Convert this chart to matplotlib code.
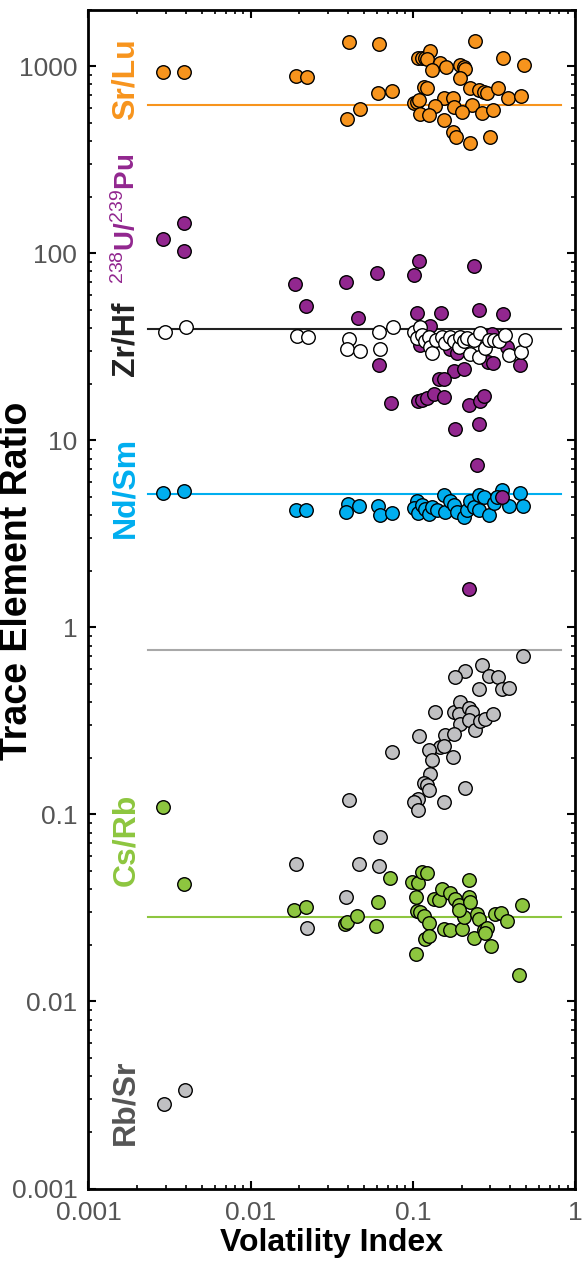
import matplotlib
matplotlib.use('Agg')
import matplotlib.pyplot as plt
from matplotlib.ticker import FixedLocator, FixedFormatter, LogLocator, NullFormatter

plt.rcParams['font.family'] = ['Liberation Sans', 'DejaVu Sans']
plt.rcParams['mathtext.fontset'] = 'custom'
plt.rcParams['mathtext.rm'] = 'Liberation Sans'

# Sr/Lu
srlu_x = [0.0029, 0.0039, 0.0191, 0.0222, 0.0402, 0.0621, 0.0392, 0.0470, 0.0610, 0.0744,
          0.1071, 0.1139, 0.1195, 0.1283, 0.1223, 0.1465, 0.1603, 0.1314, 0.1966, 0.2061,
          0.211, 0.1948, 0.2433, 0.3607, 0.484, 0.1167, 0.1223, 0.2266, 0.2552, 0.274,
          0.2873, 0.3344, 0.3873, 0.4615, 0.1012, 0.1061, 0.1087, 0.1551, 0.1771, 0.1378,
          0.1788, 0.232, 0.1100, 0.1253, 0.2013, 0.2676, 0.3130, 0.1566, 0.1771, 0.1857,
          0.2266, 0.2984]
srlu_y = [933, 933, 891, 873, 1344, 1316, 525, 594, 720, 738,
          1112, 1112, 1112, 1203, 1100, 1042, 996, 952, 1020, 990,
          970, 870, 1366, 1108, 1020, 775, 770, 770, 750, 729,
          720, 770, 680, 690, 640, 645, 660, 680, 680, 611,
          606, 624, 558, 547, 570, 562, 586, 514, 446, 419,
          389, 419]

# 238U/239Pu
upu_x = [0.0029, 0.0039, 0.0039, 0.0188, 0.0219, 0.0386, 0.0602, 0.1012, 0.1087, 0.2399,
         0.0459, 0.1061, 0.1494, 0.2576, 0.3607, 0.1271, 0.0616, 0.1113, 0.1705, 0.1875,
         0.3085, 0.3818, 0.290, 0.313, 0.457, 0.1788, 0.2061, 0.1445, 0.1551, 0.0734,
         0.1076, 0.1139, 0.1223, 0.1345, 0.1551, 0.2213, 0.2613, 0.2766, 0.1831, 0.2576,
         0.2492, 0.3556, 0.2213]
upu_y = [120, 146, 103, 68.9, 52.3, 70.6, 78.5, 76.9, 91.0, 85.2,
         45.1, 48.0, 48.0, 50.0, 47.2, 40.8, 25.4, 32.2, 30.9, 29.3,
         37.2, 31.5, 26.2, 25.9, 25.4, 23.5, 24.0, 21.4, 21.4, 15.8,
         16.2, 16.5, 16.8, 17.7, 17.0, 15.5, 16.2, 17.3, 11.5, 12.3,
         7.35, 5.01, 1.61]

# Zr/Hf
zrhf_x = [0.00297, 0.00401, 0.0193, 0.0225, 0.0406, 0.0392, 0.0470, 0.0616, 0.0630, 0.0751,
          0.1012, 0.1103, 0.1061, 0.1139, 0.1195, 0.1253, 0.1283, 0.1314, 0.1397, 0.1515,
          0.1588, 0.1705, 0.1788, 0.1920, 0.1966, 0.2061, 0.2161, 0.2266, 0.2376, 0.2552,
          0.2613, 0.2806, 0.2942, 0.3159, 0.3391, 0.3677, 0.391, 0.466, 0.489]
zrhf_y = [37.9, 40.4, 36.1, 35.5, 35.0, 30.7, 30.0, 37.9, 30.7, 40.4,
          37.9, 40.4, 35.3, 36.4, 33.9, 35.7, 31.5, 29.3, 34.5, 35.7,
          33.1, 35.5, 33.9, 31.5, 35.7, 33.9, 35.3, 29.0, 34.5, 27.9,
          37.5, 31.0, 34.5, 34.5, 33.9, 36.4, 28.7, 29.7, 34.2]

# Nd/Sm
ndsm_x = [0.0029, 0.0039, 0.0191, 0.0220, 0.0398, 0.0388, 0.0463, 0.0610, 0.0624, 0.0744,
          0.1551, 0.1061, 0.1012, 0.1076, 0.1139, 0.1195, 0.1253, 0.1314, 0.1411, 0.1588,
          0.1705, 0.1788, 0.1875, 0.2061, 0.2161, 0.2266, 0.2376, 0.2552, 0.2740, 0.2552,
          0.2942, 0.3159, 0.3556, 0.391, 0.457, 0.478, 0.3312]
ndsm_y = [5.22, 5.35, 4.26, 4.26, 4.55, 4.14, 4.46, 4.46, 3.97, 4.08,
          5.08, 4.77, 4.34, 4.08, 4.5, 4.32, 4.04, 4.39, 4.22, 4.14,
          4.77, 4.5, 4.14, 3.89, 4.22, 4.77, 4.39, 5.08, 4.98, 4.22,
          3.97, 4.6, 5.4, 4.44, 5.23, 4.46, 4.98]

# Rb/Sr (grey)
rbsr_x = [0.478, 0.2676, 0.209, 0.1831, 0.2942, 0.3344, 0.3556, 0.391, 0.2552, 0.1378,
          0.1788, 0.1966, 0.1920, 0.2213, 0.232, 0.1966, 0.2213, 0.2433, 0.2613, 0.2806,
          0.313, 0.1097, 0.1588, 0.1788, 0.1479, 0.1551, 0.1253, 0.1771, 0.0744, 0.1314,
          0.1271, 0.1167, 0.1223, 0.1253, 0.209, 0.1071, 0.1012, 0.1551, 0.1071, 0.0402,
          0.0624, 0.0191, 0.0463, 0.0616, 0.0388, 0.0222, 0.00294, 0.00395]
rbsr_y = [0.70, 0.631, 0.582, 0.543, 0.55, 0.543, 0.470, 0.475, 0.470, 0.352,
          0.352, 0.399, 0.345, 0.373, 0.355, 0.303, 0.32, 0.284, 0.315, 0.325,
          0.345, 0.263, 0.265, 0.27, 0.229, 0.231, 0.222, 0.203, 0.215, 0.195,
          0.165, 0.147, 0.144, 0.135, 0.139, 0.121, 0.117, 0.117, 0.105, 0.119,
          0.0757, 0.0541, 0.0541, 0.053, 0.0361, 0.0247, 0.00284, 0.00336]

# Cs/Rb
csrb_x = [0.0029, 0.00388, 0.0727, 0.0186, 0.0219, 0.0382, 0.0392, 0.0455, 0.0610, 0.0596,
          0.0988, 0.1071, 0.1139, 0.1223, 0.2213, 0.1051, 0.1345, 0.1445, 0.1515, 0.1705,
          0.1831, 0.1920, 0.2213, 0.2266, 0.1061, 0.1113, 0.1167, 0.1253, 0.1195, 0.1253,
          0.1551, 0.1705, 0.2013, 0.2061, 0.1920, 0.2376, 0.2492, 0.2552, 0.2740, 0.2873,
          0.2806, 0.3190, 0.3507, 0.3818, 0.4727, 0.3043, 0.1051, 0.4508]
csrb_y = [0.109, 0.0423, 0.0459, 0.0307, 0.0320, 0.0258, 0.0266, 0.0286, 0.0340, 0.0253,
          0.0438, 0.043, 0.0492, 0.0488, 0.0448, 0.0364, 0.0354, 0.0347, 0.0397, 0.038,
          0.0354, 0.0327, 0.0364, 0.034, 0.0304, 0.030, 0.0285, 0.0263, 0.0216, 0.0225,
          0.0245, 0.0242, 0.0245, 0.0284, 0.031, 0.0219, 0.0295, 0.0277, 0.024, 0.0248,
          0.0233, 0.0295, 0.0297, 0.0271, 0.0327, 0.0197, 0.018, 0.0139]

# reference (CI) values drawn as horizontal lines
ref_vals = {'srlu': 624, 'zrhf': 39.6, 'ndsm': 5.14, 'rbsr': 0.76, 'csrb': 0.0282}
line_x = [0.00234, 0.825]

orange = '#F7941D'
purple = '#92278F'
blue = '#00AEEF'
green = '#8DC63F'
grey = '#C0C0C2'

fig = plt.figure(figsize=(5.84, 12.66), dpi=100)
ax = fig.add_axes([0.1515, 0.0612, 0.8331, 0.9309])

ax.plot(line_x, [ref_vals['srlu']] * 2, color=orange, lw=1.5, zorder=1)
ax.plot(line_x, [ref_vals['zrhf']] * 2, color='#222222', lw=1.5, zorder=1)
ax.plot(line_x, [ref_vals['ndsm']] * 2, color=blue, lw=1.5, zorder=1)
ax.plot(line_x, [ref_vals['rbsr']] * 2, color='#A8A8A8', lw=1.5, zorder=1)
ax.plot(line_x, [ref_vals['csrb']] * 2, color=green, lw=1.5, zorder=1)

kw = dict(s=95, edgecolors='black', linewidths=1.0)
ax.scatter(rbsr_x, rbsr_y, c=grey, zorder=2, **kw)
ax.scatter(csrb_x, csrb_y, c=green, zorder=3, **kw)
ax.scatter(ndsm_x, ndsm_y, c=blue, zorder=4, **kw)
ax.scatter(upu_x, upu_y, c=purple, zorder=5, **kw)
ax.scatter(zrhf_x, zrhf_y, c='white', zorder=6, **kw)
ax.scatter(srlu_x, srlu_y, c=orange, zorder=7, **kw)

ax.set_xscale('log')
ax.set_yscale('log')
ax.set_xlim(0.001, 1)
ax.set_ylim(0.001, 2000)

ax.xaxis.set_major_locator(FixedLocator([0.001, 0.01, 0.1, 1]))
ax.xaxis.set_major_formatter(FixedFormatter(['0.001', '0.01', '0.1', '1']))
ax.yaxis.set_major_locator(FixedLocator([0.001, 0.01, 0.1, 1, 10, 100, 1000]))
ax.yaxis.set_major_formatter(FixedFormatter(['0.001', '0.01', '0.1', '1', '10', '100', '1000']))
ax.xaxis.set_minor_locator(LogLocator(base=10, subs=range(2, 10)))
ax.yaxis.set_minor_locator(LogLocator(base=10, subs=range(2, 10)))
ax.xaxis.set_minor_formatter(NullFormatter())
ax.yaxis.set_minor_formatter(NullFormatter())
ax.tick_params(which='both', direction='in', top=True, right=True,
               labelsize=19, labelcolor='#555555')
ax.tick_params(which='major', length=6, width=1.5)
ax.tick_params(which='minor', length=3, width=1.2)
ax.tick_params(axis='x', which='major', pad=9)
ax.tick_params(axis='y', which='major', pad=8)
for sp in ax.spines.values():
    sp.set_linewidth(2)

ax.set_xlabel('Volatility Index', fontsize=23, fontweight='bold', labelpad=2)
ax.set_ylabel('Trace Element Ratio', fontsize=27, fontweight='bold')
ax.yaxis.set_label_coords(-0.11, 0.516)

lab_x = 0.0017
lab = dict(rotation=90, fontsize=23, fontweight='bold', ha='center', va='center')
ax.text(lab_x, 858, 'Sr/Lu', color=orange, **lab)
ax.text(lab_x, 153, r'$^{\mathrm{238}}$U/$^{\mathrm{239}}$Pu', color=purple,
        rotation=90, fontsize=20, fontweight='bold', ha='center', va='center')
ax.text(lab_x, 35, 'Zr/Hf', color='#222222', **lab)
ax.text(lab_x, 5.6, 'Nd/Sm', color=blue, **lab)
ax.text(lab_x, 0.073, 'Cs/Rb', color=green, **lab)
ax.text(lab_x, 0.0029, 'Rb/Sr', color='#555555', **lab)

fig.savefig('out.png', dpi=100)
